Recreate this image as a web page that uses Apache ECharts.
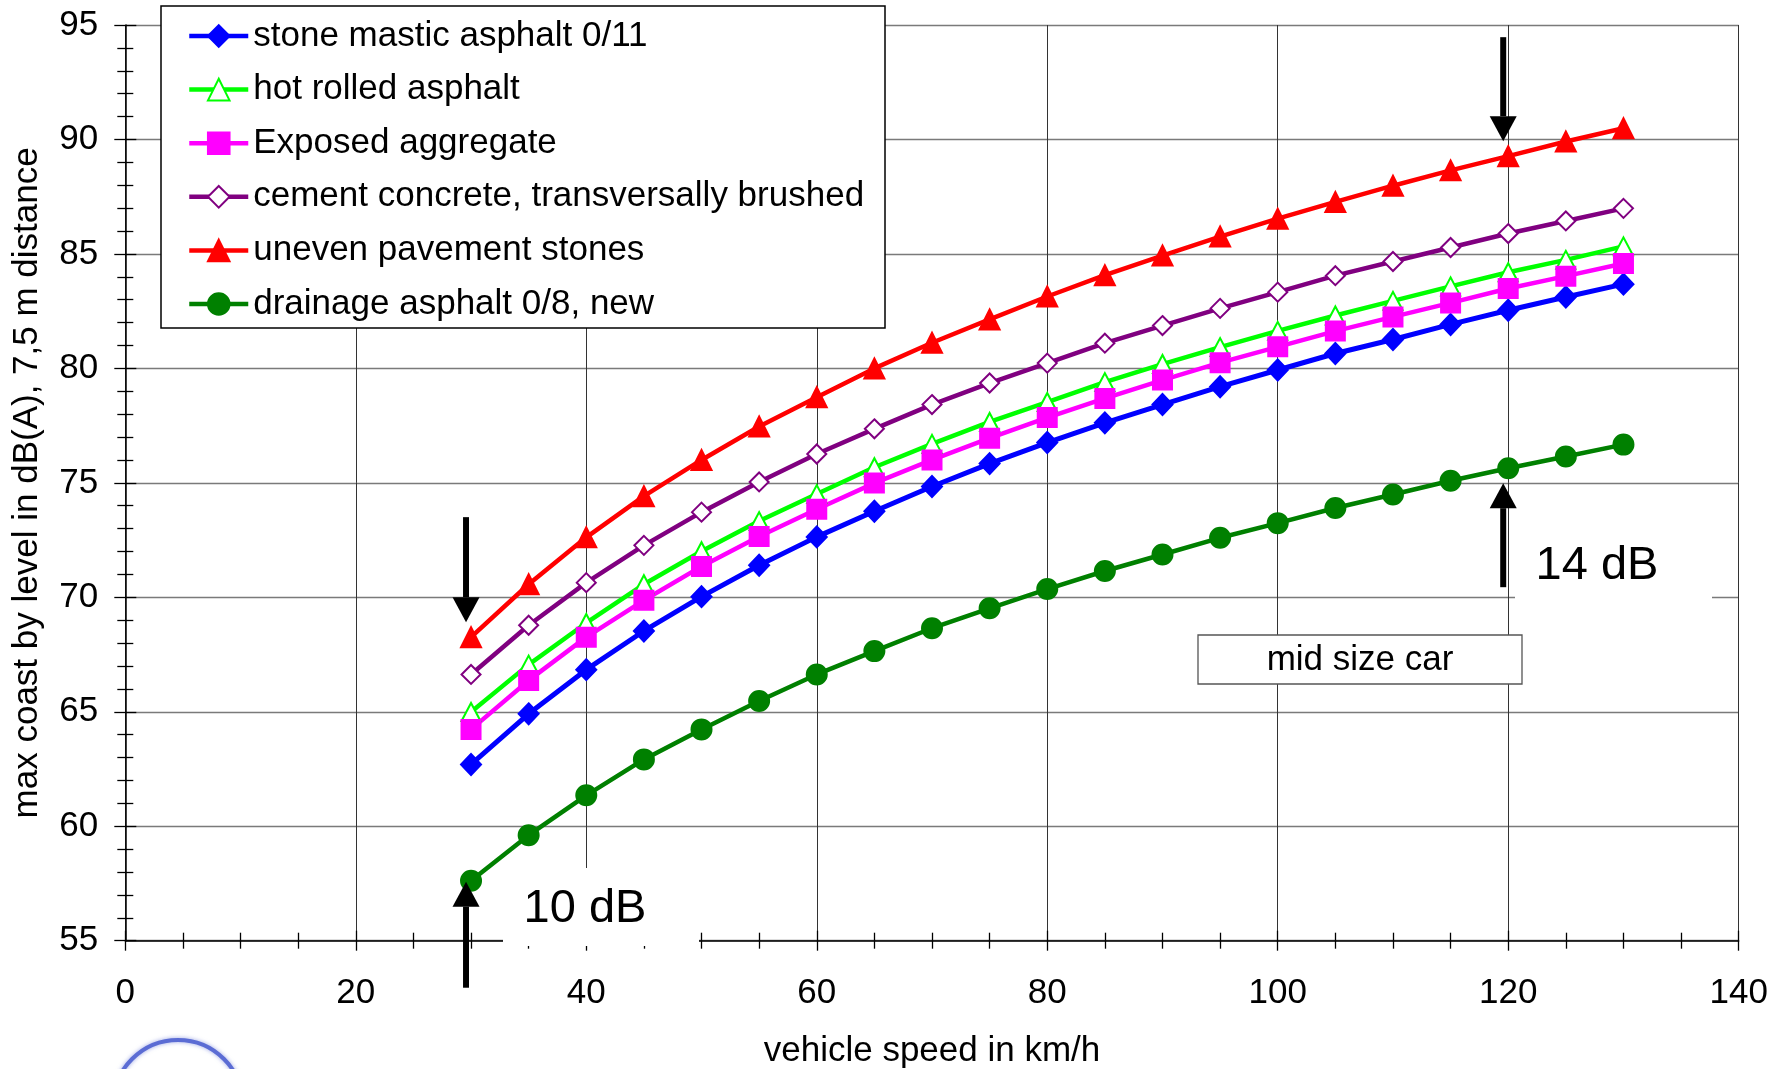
<!DOCTYPE html>
<html>
<head>
<meta charset="utf-8">
<script src="https://cdn.jsdelivr.net/npm/echarts@6/dist/echarts.min.js"></script>
<style>
  html, body { margin: 0; padding: 0; background: #fff; }
  #chart { width: 1786px; height: 1069px; }
</style>
</head>
<body>
<div id="chart"></div>
<script>
// Vehicle speeds (km/h) at which the coast-by level was measured
const speeds = [30, 35, 40, 45, 50, 55, 60, 65, 70, 75, 80, 85, 90, 95, 100, 105, 110, 115, 120, 125, 130];

// Maximum coast-by level in dB(A) at 7.5 m, per road surface
const stoneMastic = [62.70, 64.91, 66.84, 68.53, 70.03, 71.40, 72.64, 73.76, 74.84, 75.84, 76.76, 77.62, 78.42, 79.20, 79.93, 80.65, 81.26, 81.92, 82.54, 83.12, 83.68];
const hotRolled   = [64.99, 67.06, 68.88, 70.57, 72.01, 73.33, 74.51, 75.68, 76.70, 77.66, 78.53, 79.40, 80.19, 80.93, 81.64, 82.31, 82.95, 83.58, 84.20, 84.74, 85.33];
const exposedAgg  = [64.23, 66.37, 68.26, 69.87, 71.35, 72.66, 73.85, 74.99, 76.00, 76.95, 77.85, 78.69, 79.49, 80.25, 80.94, 81.63, 82.25, 82.86, 83.49, 84.03, 84.58];
const cementConc  = [66.63, 68.78, 70.64, 72.27, 73.72, 75.04, 76.26, 77.36, 78.42, 79.36, 80.23, 81.10, 81.87, 82.62, 83.33, 84.05, 84.67, 85.28, 85.89, 86.44, 86.99];
const unevenStone = [68.26, 70.57, 72.62, 74.42, 76.00, 77.46, 78.74, 80.00, 81.12, 82.14, 83.14, 84.07, 84.93, 85.76, 86.54, 87.27, 87.98, 88.65, 89.27, 89.91, 90.49];
const drainage    = [57.62, 59.61, 61.35, 62.92, 64.23, 65.47, 66.63, 67.65, 68.65, 69.52, 70.36, 71.15, 71.87, 72.60, 73.24, 73.90, 74.49, 75.09, 75.64, 76.15, 76.67];

const seriesNames = [
  'stone mastic asphalt 0/11',
  'hot rolled asphalt',
  'Exposed aggregate',
  'cement concrete, transversally brushed',
  'uneven pavement stones',
  'drainage asphalt 0/8, new'
];

// Axis ranges and annotation texts
const xRange = { min: 0, max: 140, step: 20 };
const yRange = { min: 55, max: 95, step: 5 };
const xTitle = 'vehicle speed in km/h';
const yTitle = 'max coast by level in dB(A), 7,5 m distance';
const noteLeft = '10 dB';
const noteRight = '14 dB';
const carNote = 'mid size car';
const lowSpeed = 30;
const highSpeed = 120;

const FONT = '"Liberation Sans", Arial, Helvetica, sans-serif';

function pairs(values) {
  return speeds.map((s, i) => [s, values[i]]);
}

function lineSeries(name, values, color, symbol, size, width) {
  return {
    name: name,
    type: 'line',
    data: pairs(values),
    xAxisIndex: 0,
    yAxisIndex: 0,
    symbol: symbol,
    symbolSize: size,
    showAllSymbol: true,
    lineStyle: { color: color, width: width },
    itemStyle: { color: color, borderColor: color, borderWidth: 2 },
    emphasis: { disabled: true },
    z: 2
  };
}

const chart = echarts.init(document.getElementById('chart'), null, { renderer: 'canvas' });

const tickStyle = { color: '#000', width: 1.3 };

chart.setOption({
  backgroundColor: '#fff',
  animation: false,
  grid: {
    left: 125.3, right: 47.3, top: 25, bottom: 128.3,
    containLabel: false,
    outerBoundsMode: 'none'
  },
  legend: {
    orient: 'vertical',
    left: 187,
    top: 16,
    padding: 0,
    itemWidth: 59,
    itemHeight: 27,
    itemGap: 13.6,
    selectedMode: false,
    z: 6,
    data: seriesNames,
    lineStyle: { width: 4.5 },
    textStyle: { fontSize: 35, color: '#000', fontFamily: FONT, lineHeight: 40 }
  },
  xAxis: [
    {
      type: 'value', min: xRange.min, max: xRange.max, interval: xRange.step,
      position: 'bottom',
      name: xTitle, nameLocation: 'middle', nameGap: 93,
      nameTextStyle: { fontSize: 35, color: '#000', fontFamily: FONT },
      axisLine: { show: true, onZero: false, lineStyle: { color: '#000', width: 1.5 } },
      axisTick: { show: true, length: 10, lineStyle: tickStyle },
      minorTick: { show: true, splitNumber: 4, length: 8, lineStyle: tickStyle },
      axisLabel: { fontSize: 35, color: '#000', margin: 35, fontFamily: FONT },
      splitLine: { show: true, lineStyle: { color: '#333', width: 1 } },
      minorSplitLine: { show: false }
    },
    {
      type: 'value', min: xRange.min, max: xRange.max, interval: xRange.step,
      position: 'bottom',
      axisLine: { show: false, onZero: false },
      axisTick: { show: true, inside: true, length: 10, lineStyle: tickStyle },
      minorTick: { show: true, splitNumber: 4, length: 8, lineStyle: tickStyle },
      axisLabel: { show: false },
      splitLine: { show: false }
    }
  ],
  yAxis: [
    {
      type: 'value', min: yRange.min, max: yRange.max, interval: yRange.step,
      position: 'left',
      name: yTitle, nameLocation: 'middle', nameGap: 80,
      nameTextStyle: { fontSize: 35, color: '#000', fontFamily: FONT },
      axisLine: { show: true, onZero: false, lineStyle: { color: '#000', width: 1.5 } },
      axisTick: { show: true, length: 11, lineStyle: tickStyle },
      minorTick: { show: true, splitNumber: 5, length: 8, lineStyle: tickStyle },
      axisLabel: { fontSize: 35, color: '#000', margin: 27, fontFamily: FONT },
      splitLine: { show: true, lineStyle: { color: '#7a7a7a', width: 1.3 } }
    },
    {
      type: 'value', min: yRange.min, max: yRange.max, interval: yRange.step,
      position: 'left', offset: 0,
      axisLine: { show: false, onZero: false },
      axisTick: { show: true, inside: true, length: 11, lineStyle: tickStyle },
      minorTick: { show: true, splitNumber: 5, length: 8, lineStyle: tickStyle },
      axisLabel: { show: false },
      splitLine: { show: false }
    }
  ],
  series: [
    lineSeries(seriesNames[0], stoneMastic, '#0000ff', 'diamond', [20, 21], 5),
    lineSeries(seriesNames[1], hotRolled, '#00ff00', 'emptyTriangle', [19, 18], 4.5),
    lineSeries(seriesNames[2], exposedAgg, '#ff00ff', 'rect', 19, 4.5),
    lineSeries(seriesNames[3], cementConc, '#800080', 'emptyDiamond', [19, 19], 4.5),
    lineSeries(seriesNames[4], unevenStone, '#ff0000', 'triangle', [20, 20], 4.5),
    lineSeries(seriesNames[5], drainage, '#008000', 'circle', 20, 4.5)
  ]
});

// Arrow pointing at a measured point; dir = 1 points downward, -1 points upward
function arrow(speed, level, dir, gap, length) {
  const p = chart.convertToPixel({ gridIndex: 0 }, [speed, level]);
  const tipX = p[0] - 5;
  const tipY = p[1] - dir * gap;
  const headLen = 25, headHalf = 13.5;
  const baseY = tipY - dir * headLen;
  const tailY = tipY - dir * length;
  return {
    type: 'group',
    z: 8,
    children: [
      {
        type: 'line',
        shape: { x1: tipX, y1: tailY, x2: tipX, y2: baseY },
        style: { stroke: '#000', lineWidth: 6 },
        z: 8
      },
      {
        type: 'polygon',
        shape: { points: [[tipX - headHalf, baseY], [tipX + headHalf, baseY], [tipX, tipY]] },
        style: { fill: '#000' },
        z: 8
      }
    ]
  };
}

const iLow = speeds.indexOf(lowSpeed);
const iHigh = speeds.indexOf(highSpeed);

chart.setOption({
  graphic: [
    // legend frame
    {
      type: 'rect', z: 5,
      shape: { x: 161, y: 6, width: 724, height: 322 },
      style: { fill: '#fff', stroke: '#000', lineWidth: 1.5 }
    },
    // "mid size car" box
    {
      type: 'rect', z: 6,
      shape: { x: 1198, y: 635, width: 324, height: 49 },
      style: { fill: '#fff', stroke: '#555', lineWidth: 1.3 }
    },
    {
      type: 'text', z: 7,
      style: { text: carNote, x: 1360, y: 660, fill: '#000', font: '35px ' + FONT, align: 'center', verticalAlign: 'middle' }
    },
    // level difference labels on white patches
    {
      type: 'rect', z: 6,
      shape: { x: 503, y: 868, width: 196, height: 78 },
      style: { fill: '#fff' }
    },
    {
      type: 'text', z: 7,
      style: { text: noteLeft, x: 585, y: 909, fill: '#000', font: '47px ' + FONT, align: 'center', verticalAlign: 'middle' }
    },
    {
      type: 'rect', z: 6,
      shape: { x: 1515, y: 530, width: 197, height: 72 },
      style: { fill: '#fff' }
    },
    {
      type: 'text', z: 7,
      style: { text: noteRight, x: 1597, y: 566, fill: '#000', font: '47px ' + FONT, align: 'center', verticalAlign: 'middle' }
    },
    // arrows marking the loudest and quietest surface
    arrow(lowSpeed, unevenStone[iLow], 1, 15, 105),
    arrow(lowSpeed, drainage[iLow], -1, 1, 106),
    arrow(highSpeed, unevenStone[iHigh], 1, 15, 104),
    arrow(highSpeed, drainage[iHigh], -1, 15, 104),
    // logo outline at the lower edge
    {
      type: 'circle', z: 1,
      shape: { cx: 178, cy: 1105, r: 65 },
      style: { fill: 'none', stroke: '#5b6cd4', lineWidth: 4, shadowBlur: 4, shadowColor: 'rgba(91,108,212,0.6)' }
    }
  ]
});
</script>
</body>
</html>
